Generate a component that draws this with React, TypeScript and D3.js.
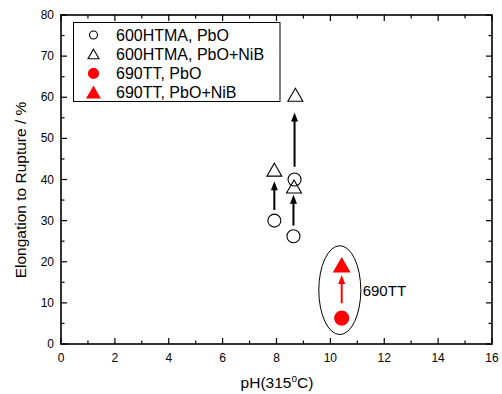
import React, { useEffect, useRef } from 'react';
import * as d3 from 'd3';

// data
const htmaPbO = [
  { ph: 7.92, el: 30 },
  { ph: 8.63, el: 26.2 },
  { ph: 8.67, el: 40 },
];
const htmaPbONiB = [
  { ph: 7.92, el: 42.3 },
  { ph: 8.65, el: 38.2 },
  { ph: 8.7, el: 60.5 },
];
const ttPbO = [{ ph: 10.42, el: 6.3 }];
const ttPbONiB = [{ ph: 10.42, el: 19.1 }];

const blackArrows = [
  { ph: 7.92, from: 32.6, to: 39.6 },
  { ph: 8.63, from: 28.8, to: 36.3 },
  { ph: 8.67, from: 43.1, to: 56.3 },
];
const redArrows = [{ ph: 10.42, from: 9.9, to: 16.8 }];

const legendItems = [
  { label: '600HTMA, PbO', shape: 'circle', color: 'black', filled: false },
  { label: '600HTMA, PbO+NiB', shape: 'triangle', color: 'black', filled: false },
  { label: '690TT, PbO', shape: 'circle', color: 'red', filled: true },
  { label: '690TT, PbO+NiB', shape: 'triangle', color: 'red', filled: true },
];

const xTicks = [0, 2, 4, 6, 8, 10, 12, 14, 16];
const yTicks = [0, 10, 20, 30, 40, 50, 60, 70, 80];

const App = () => {
  const ref = useRef<SVGSVGElement>(null);

  useEffect(() => {
    const width = 502;
    const height = 394;
    const margin = { top: 15, right: 10, bottom: 50, left: 61 };
    const font = 'Liberation Sans, Arial, sans-serif';

    const svg = d3.select(ref.current);
    svg.selectAll('*').remove();

    const x = d3.scaleLinear().domain([0, 16]).range([margin.left, width - margin.right]);
    const y = d3.scaleLinear().domain([0, 80]).range([height - margin.bottom, margin.top]);

    const x0 = x(0), x1 = x(16), y0 = y(0), y1 = y(80);

    // ticks (inward) on all four sides
    const tk = svg.append('g').attr('stroke', 'black').attr('stroke-width', 1.2);
    d3.range(0, 17, 1).forEach(v => {
      const len = v % 2 === 0 ? 6 : 3.5;
      tk.append('line').attr('x1', x(v)).attr('x2', x(v)).attr('y1', y0).attr('y2', y0 - len);
      tk.append('line').attr('x1', x(v)).attr('x2', x(v)).attr('y1', y1).attr('y2', y1 + len);
    });
    d3.range(0, 81, 5).forEach(v => {
      const len = v % 10 === 0 ? 6 : 3.5;
      tk.append('line').attr('y1', y(v)).attr('y2', y(v)).attr('x1', x0).attr('x2', x0 + len);
      tk.append('line').attr('y1', y(v)).attr('y2', y(v)).attr('x1', x1).attr('x2', x1 - len);
    });

    // frame
    svg.append('rect')
      .attr('x', x0).attr('y', y1)
      .attr('width', x1 - x0).attr('height', y0 - y1)
      .attr('fill', 'none').attr('stroke', 'black').attr('stroke-width', 1.6);

    // tick labels
    svg.append('g').selectAll('text').data(xTicks).enter().append('text')
      .attr('x', d => x(d)).attr('y', y0 + 18)
      .attr('text-anchor', 'middle')
      .style('font-family', font).style('font-size', '12px')
      .text(d => d);
    svg.append('g').selectAll('text').data(yTicks).enter().append('text')
      .attr('x', x0 - 7).attr('y', d => y(d) + 4)
      .attr('text-anchor', 'end')
      .style('font-family', font).style('font-size', '12px')
      .text(d => d);

    // axis titles
    const xt = svg.append('text')
      .attr('x', 277).attr('y', 388)
      .attr('text-anchor', 'middle')
      .style('font-family', font).style('font-size', '15.5px');
    xt.append('tspan').text('pH(315');
    xt.append('tspan').attr('dy', -6).style('font-size', '10px').text('o');
    xt.append('tspan').attr('dy', 6).text('C)');

    svg.append('text')
      .attr('transform', `translate(26, 190) rotate(-90)`)
      .attr('text-anchor', 'middle')
      .style('font-family', font).style('font-size', '15.5px')
      .text('Elongation to Rupture / %');

    // ellipse around 690TT
    svg.append('ellipse')
      .attr('cx', x(10.35)).attr('cy', y(13.1))
      .attr('rx', x(10.35 + 0.78) - x(10.35)).attr('ry', y(0) - y(10.8))
      .attr('fill', 'none').attr('stroke', 'black').attr('stroke-width', 1);
    svg.append('text')
      .attr('x', x(11.2)).attr('y', y(13.1) + 5.5)
      .style('font-family', font).style('font-size', '15px')
      .text('690TT');

    // arrows
    const drawArrow = (a, color, w) => {
      const px = x(a.ph);
      const tip = y(a.to);
      svg.append('line')
        .attr('x1', px).attr('x2', px)
        .attr('y1', y(a.from)).attr('y2', tip + 6)
        .attr('stroke', color).attr('stroke-width', w);
      svg.append('path')
        .attr('d', `M${px},${tip} L${px - 3.5},${tip + 9} L${px + 3.5},${tip + 9} Z`)
        .attr('fill', color);
    };
    blackArrows.forEach(a => drawArrow(a, 'black', 2));
    redArrows.forEach(a => drawArrow(a, 'red', 2));

    const tri = d3.symbol().type(d3.symbolTriangle);

    // markers
    const drawCircle = (g, cx, cy, r, color, filled) => {
      g.append('circle').attr('cx', cx).attr('cy', cy).attr('r', r)
        .attr('fill', filled ? color : 'white')
        .attr('stroke', color).attr('stroke-width', 1.1);
    };
    const drawTri = (g, cx, cy, size, color, filled) => {
      g.append('path')
        .attr('transform', `translate(${cx},${cy + size * 0.12})`)
        .attr('d', tri.size(size * size * 0.433)())
        .attr('fill', filled ? color : 'none')
        .attr('stroke', color).attr('stroke-width', 1.1);
    };

    const pts = svg.append('g');
    htmaPbO.forEach(d => drawCircle(pts, x(d.ph), y(d.el), 6.5, 'black', false));
    htmaPbONiB.forEach(d => drawTri(pts, x(d.ph), y(d.el), 15, 'black', false));
    ttPbO.forEach(d => drawCircle(pts, x(d.ph), y(d.el), 7, 'red', true));
    ttPbONiB.forEach(d => drawTri(pts, x(d.ph), y(d.el), 16, 'red', true));

    // legend
    const lg = svg.append('g');
    lg.append('rect')
      .attr('x', 73.5).attr('y', 22.5).attr('width', 206.5).attr('height', 79)
      .attr('fill', 'white').attr('stroke', 'black').attr('stroke-width', 1);
    legendItems.forEach((it, i) => {
      const cy = 35 + i * 19.2;
      if (it.shape === 'circle') drawCircle(lg, 93.5, cy, it.filled ? 5 : 4, it.color, it.filled);
      else drawTri(lg, 93.5, cy, it.filled ? 13 : 11, it.color, it.filled);
      lg.append('text')
        .attr('x', 116).attr('y', cy + 5.5)
        .style('font-family', font).style('font-size', '16px')
        .text(it.label);
    });
  }, []);

  return (
    <svg ref={ref} width={502} height={394}
      style={{ position: 'absolute', left: 0, top: 0, background: 'white' }} />
  );
};

export default App;
